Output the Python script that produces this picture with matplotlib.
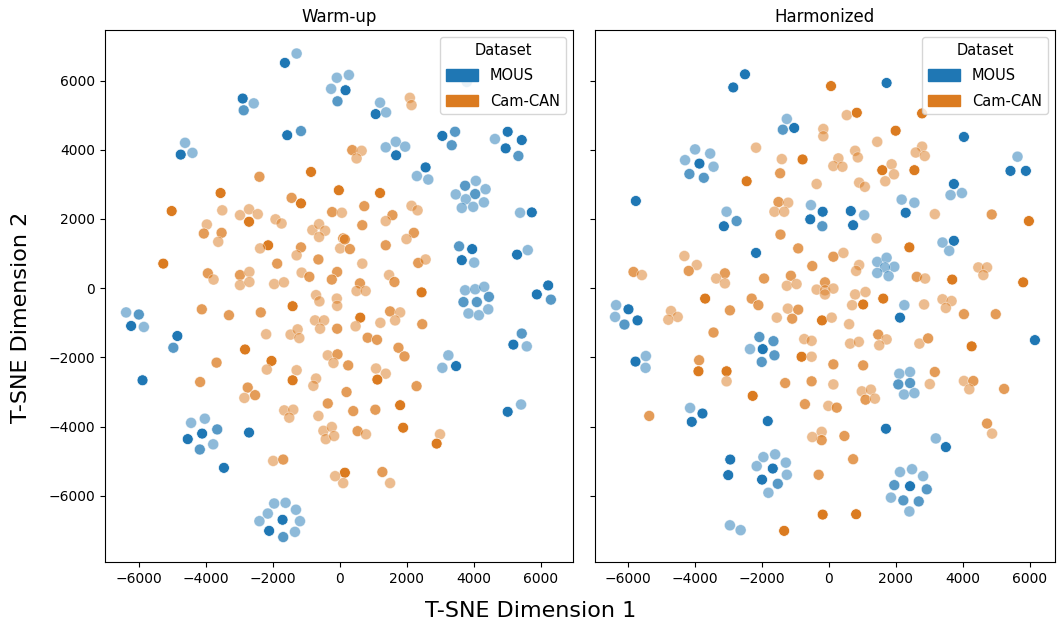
import numpy as np
import matplotlib
matplotlib.use('Agg')
import matplotlib.pyplot as plt
from matplotlib.patches import Patch

# t-SNE embeddings: (dim1, dim2, shade) ; shade 0=light 1=mid 2=dark
warm_mous = [(-1280,6780,0),(-1630,6510,2),(-250,5760,0),(-80,6080,0),(280,6160,0),(180,5720,2),(-60,5400,1),(-2890,5480,2),(-2560,5340,0),(-2860,5140,1),
             (-1560,4420,2),(-1150,4540,1),(-4610,4200,0),(-4740,3860,2),(-4390,3910,0),(1210,5360,0),(1080,5030,2),(1390,5080,0),(3070,4400,2),(3450,4520,1),
             (3350,4130,1),(4640,4310,0),(5020,4520,2),(5440,4280,2),(4960,4040,2),(5340,3820,1),(1380,4070,0),(1680,4230,0),(1960,4090,0),(1690,3840,2),
             (2570,3490,2),(2310,3240,0),(2650,3140,0),(3470,2710,0),(3750,2960,1),(4070,3100,0),(4360,2860,0),(4050,2720,1),(3770,2570,0),(4310,2480,0),
             (3650,2320,0),(3990,2350,0),(5390,2180,0),(5740,2190,2),(3570,1210,1),(3960,1130,2),(3650,810,2),(4020,740,0),(5300,970,2),(5620,1100,0),
             (6230,80,2),(3750,-60,0),(4050,-30,0),(4320,40,0),(3700,-400,1),(4100,-400,1),(4460,-250,1),(3850,-730,0),(4160,-780,0),(4440,-610,0),
             (5890,-180,2),(6310,-330,1),(5440,-1310,1),(5190,-1630,2),(5590,-1680,0),(3250,-1940,0),(3070,-2300,0),(3480,-2250,2),(5420,-3360,0),(5020,-3570,2),
             (-6370,-700,0),(-5990,-760,1),(-6220,-1090,2),(-5840,-1120,0),(-4840,-1380,2),(-4960,-1720,1),(-5880,-2660,2),(-4430,-3890,0),(-4020,-3770,0),(-3650,-4080,1),
             (-4100,-4200,2),(-4530,-4360,2),(-4170,-4660,1),(-3770,-4510,0),(-2700,-4170,2),(-3450,-5190,2),(-1950,-6220,0),(-1610,-6200,0),(-1300,-6400,0),(-2140,-6510,0),
             (-2390,-6730,0),(-1700,-6690,2),(-1180,-6730,0),(-2100,-7010,2),(-1680,-7190,1),(-1330,-7040,0),(3800,5960,0)]

warm_cam = [(-2390,3220,1),(-850,3360,2),(-3550,2750,2),(-5010,2230,2),(-3500,2250,0),(-2970,2110,0),(-2700,2280,0),(-2440,2140,0),(-2700,1920,2),(-1430,2610,1),
            (-1150,2450,2),(-20,2830,2),(-220,2200,1),(70,2180,0),(-3960,1840,0),(-4050,1580,1),(-3520,1600,1),(-3620,1340,0),(-1910,1990,0),(-1730,1870,0),
            (-810,1680,0),(-610,1850,0),(-430,1660,0),(-610,1480,0),(110,1440,1),(-2130,1240,2),(-2370,1150,0),(-1150,1180,1),(-1280,950,0),(-630,830,1),
            (20,1150,0),(-5260,710,2),(-1860,710,1),(-3930,430,1),(-3760,250,0),(-2970,380,1),(-2690,470,0),(-2970,90,0),(-2690,180,0),(-1950,120,0),
            (-1660,170,0),(-1130,450,0),(-900,330,1),(-70,470,1),(-230,250,1),
            (2100,5500,0),(2150,5290,0),(380,3990,1),(660,3970,0),(510,3750,0),(1210,2750,2),(740,2370,1),(2150,2380,0),(2330,2250,0),(1580,2110,1),
            (1380,1940,0),(680,1820,1),(160,1410,1),(310,1130,1),(2220,1600,1),(2000,1420,0),(1380,1240,1),(680,710,0),(2350,730,1),(2570,830,0),
            (1480,380,0),(1640,180,1),(610,140,1),(510,-80,0),(780,-80,0),(2450,-120,2),
            (-80,-300,0),(-70,-510,0),(620,-850,2),(480,-1100,0),(1510,-670,1),(1810,-700,0),(1660,-930,0),(1220,-1000,0),(2470,-1040,1),(-70,-1170,1),
            (840,-1430,1),(1120,-1490,1),(1760,-1720,1),(1940,-1970,1),(260,-2230,1),(1090,-2320,0),(1380,-2470,0),(1130,-2640,2),(2300,-2830,1),(210,-3000,1),
            (410,-3550,1),(1070,-3510,1),(1810,-3380,2),(540,-4130,1),(790,-4220,0),(1900,-4030,2),(3000,-4220,0),(2900,-4490,2),(160,-5330,2),(110,-5630,0),
            (1280,-5310,1),(1510,-5630,0),
            (-700,-200,0),(-600,-380,0),(-4110,-610,1),(-3300,-780,1),(-2350,-700,1),(-1400,-520,2),(-2190,-1330,0),(-1460,-1340,0),(-1250,-1190,0),(-1200,-1440,0),
            (-730,-930,0),(-460,-930,0),(-580,-1170,0),(-2820,-1770,2),(-3670,-2150,1),(-2030,-2100,2),(-2170,-2350,0),(-1280,-2370,0),(-1400,-2660,2),(-350,-1940,0),
            (-60,-1910,1),(-180,-2160,0),(-700,-2610,0),(-780,-2820,0),(-4160,-2710,1),(-2740,-2870,1),(-2520,-3090,1),(-2840,-3170,0),(-350,-3330,1),(-1650,-3530,0),
            (-1380,-3510,0),(-1500,-3740,0),(-630,-3690,0),(-480,-4120,0),(-230,-4010,0),(-410,-4360,0),(-160,-4270,0),(-1980,-4990,0),(-1680,-4950,1),(-130,-5430,0)]

harm_mous = [(-2500,6180,2),(-2850,5800,2),(-1250,4890,0),(-1370,4580,1),(-1030,4630,2),(-3990,4010,0),(-3540,3890,0),(-4290,3700,0),(-3860,3600,2),(-3440,3510,0),
             (-4160,3300,1),(-3730,3190,1),(-5760,2520,2),(-3050,2210,0),(-2750,1940,1),(-3130,1790,2),(-2170,1020,2),(-530,2400,0),(-180,2210,2),(-550,1990,2),
             (-190,1790,1),(1730,5930,2),(4040,4370,2),(5640,3800,0),(5430,3390,2),(5890,3390,2),(3740,3010,2),(3640,2690,0),(3980,2750,0),(660,2230,2),
             (1060,2110,0),(730,1820,2),(2180,2560,0),(2560,2470,0),(2300,2180,2),(3400,1320,0),(3740,1370,2),(3600,1080,0),(1450,760,0),(1730,880,0),
             (1960,620,0),(1680,600,0),(1450,440,0),(1790,350,0),(2260,-490,0),(2130,-850,2),(6160,-1500,2),(2110,-2470,0),(2430,-2420,0),(2080,-2780,1),
             (2430,-2740,1),(2250,-3070,0),(2560,-3030,0),(1710,-4060,2),(3200,-4340,0),(3500,-4590,2),(2130,-5310,0),(2490,-5230,0),(2820,-5430,0),(1960,-5690,1),
             (2430,-5720,2),(2930,-5810,1),(1860,-6050,0),(2230,-6130,1),(2690,-6160,1),(2410,-6450,0),(-6350,-490,0),(-5980,-610,2),(-6380,-830,0),(-6100,-1050,1),
             (-5710,-930,2),(-5460,-1960,0),(-5770,-2120,2),(-5470,-2300,0),(-2070,-1410,1),(-1650,-1530,1),(-2350,-1760,0),(-1970,-1760,2),(-1620,-1940,1),(-2000,-2130,1),
             (-4140,-3460,0),(-3770,-3620,2),(-4090,-3860,2),(-1820,-3840,2),(-2940,-4950,2),(-3000,-5400,2),(-1950,-4880,0),(-1600,-4800,0),(-1280,-5040,0),(-2150,-5140,0),
             (-1670,-5210,2),(-1250,-5390,0),(-1990,-5530,2),(-1520,-5650,1),(-1800,-5910,0),(-2950,-6850,0),(-2630,-6990,0)]

harm_cam = [(70,5840,2),(-160,4600,0),(-160,4390,0),(-2170,4060,0),(-1400,3730,0),(-780,3720,2),(-1450,3320,1),(-2450,3090,2),(-360,3010,0),(-1500,2490,1),
            (-1210,2470,0),(-1620,2210,0),(-1330,2210,0),(-1440,1550,1),(-910,1150,1),(140,910,1),(-4310,930,0),(-3940,670,0),(-4180,500,1),(-5830,470,1),
            (-5580,380,0),(-3100,430,1),(-3360,280,0),(-3100,140,0),(-1930,280,1),(-1130,360,1),(-1250,70,0),(-960,120,0),(-490,640,1),(-110,170,1),
            (-360,-40,0),(-110,-60,0),(140,-10,0),
            (540,5000,0),(840,5070,2),(2790,5050,2),(2000,4550,2),(1450,4230,0),(790,3970,0),(870,3780,0),(290,3750,0),(140,3530,0),(410,3510,0),
            (2790,4090,0),(2600,3920,0),(2870,3820,0),(1600,3410,2),(1880,3580,0),(1950,3290,0),(1690,3090,0),(2560,3410,2),(910,3050,0),(1080,2930,0),
            (3170,2140,0),(4870,2130,1),(5980,1940,2),(1430,1440,0),(2410,1180,2),(440,1020,0),(910,670,0),(820,500,0),(2630,330,1),(2880,280,0),
            (3690,250,2),(4470,600,0),(4730,600,0),(4620,380,0),(5810,170,2),
            (-110,-180,0),(790,-180,0),(1100,-110,0),(700,-490,0),(1030,-470,2),(1630,-300,2),(2850,-470,0),(3400,-320,0),(3670,-370,0),(3500,-570,0),
            (4040,-750,1),(4990,-750,1),(-200,-930,2),(90,-850,0),(610,-1040,0),(640,-1600,0),(900,-1550,0),(1480,-1340,1),(1730,-1480,0),(1510,-1650,0),
            (2710,-1600,0),(2970,-1450,1),(4270,-1680,2),(140,-2200,1),(1030,-2230,1),(3170,-2420,1),(140,-2780,0),(3020,-2770,0),(4040,-2680,0),(4320,-2680,1),
            (4200,-2920,0),(5240,-2910,1),(990,-2980,0),(1260,-2930,0),(1100,-3220,1),(1380,-3190,0),(-10,-3400,0),(240,-3450,1),(-210,-4150,0),(-210,-4390,1),
            (470,-4270,1),(730,-4940,1),(4730,-3910,1),(4880,-4200,0),(-300,-5390,1),(-180,-6540,2),(820,-6530,2),
            (-3690,-300,2),(-2950,-640,1),(-2300,-300,1),(-2100,-490,1),(-1550,-850,0),(-1220,-590,0),(-910,-620,1),(-1090,-880,1),(-4710,-660,0),(-4510,-830,0),
            (-4790,-910,0),(-3440,-1280,1),(-730,-1470,0),(-510,-1520,0),(-810,-1980,2),(-510,-1980,0),(-3870,-2080,1),(-3890,-2400,2),(-3050,-2400,2),(-3050,-2690,0),
            (-2270,-3110,2),(-1300,-2740,1),(-510,-2690,1),(-710,-3350,1),(-5360,-3690,1),(-490,-4300,0),(-1330,-7010,2)]

titles = ['Warm-up', 'Harmonized']
labels = ['MOUS', 'Cam-CAN']
colors = ['#1f77b4', '#db7b20']
shade_alpha = np.array([0.5, 0.75, 1.0])

fig, axs = plt.subplots(1, 2, figsize=(10.58, 6.34), dpi=100, sharey=True)
axs[0].set_position([105/1058, 1-562/634, 468/1058, 532/634])
axs[1].set_position([595/1058, 1-562/634, 460/1058, 532/634])

for ax, title, groups in zip(axs, titles, [(warm_mous, warm_cam), (harm_mous, harm_cam)]):
    for pts, c in zip(groups, colors):
        pts = np.array(pts)
        ax.scatter(pts[:, 0], pts[:, 1], s=62, color=c, alpha=shade_alpha[pts[:, 2].astype(int)],
                   edgecolors='white', linewidths=0.5)
    ax.set_title(title, fontsize=12)
    handles = [Patch(color=c, label=l) for c, l in zip(colors, labels)]
    ax.legend(handles=handles, title='Dataset', loc='upper right', fontsize=10.5, title_fontsize=10.5,
              handlelength=2.2, handleheight=0.85, labelspacing=0.7, handletextpad=0.8)

axs[0].set_xlim(-7000, 6970)
axs[1].set_xlim(-6980, 6760)
axs[0].set_ylim(-7910, 7460)
for ax in axs:
    ax.set_xticks([-6000, -4000, -2000, 0, 2000, 4000, 6000])
axs[0].set_yticks([-6000, -4000, -2000, 0, 2000, 4000, 6000])

fig.text(0.502, 0.02, 'T-SNE Dimension 1', ha='center', va='bottom', fontsize=16)
fig.text(0.01, 0.5, 'T-SNE Dimension 2', ha='left', va='center', rotation=90, fontsize=16)

fig.savefig('out.png', dpi=100)
